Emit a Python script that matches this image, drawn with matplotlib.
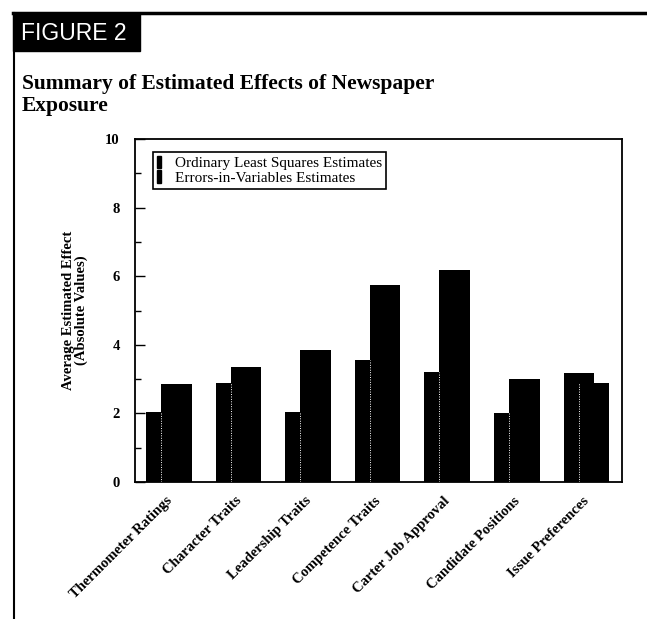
import matplotlib
matplotlib.use('Agg')
import matplotlib.pyplot as plt
from matplotlib.patches import Rectangle, Patch
from matplotlib.lines import Line2D
import numpy as np

# data
categories = ['Thermometer Ratings', 'Character Traits', 'Leadership Traits',
              'Competence Traits', 'Carter Job Approval', 'Candidate Positions',
              'Issue Preferences']
ols = [2.03, 2.89, 2.04, 3.57, 3.21, 2.01, 3.19]
eiv = [2.87, 3.34, 3.85, 5.74, 6.17, 3.00, 2.90]
series_names = ['Ordinary Least Squares Estimates', 'Errors-in-Variables Estimates']

W, H = 647, 619
serif = 'Liberation Serif'

fig = plt.figure(figsize=(W / 100, H / 100), dpi=100)


def fx(px):
    return px / W


def fy(py):
    return 1 - py / H


# page frame: thick top rule, thin left rule, black "FIGURE 2" tab
fig.add_artist(Line2D([fx(13), 1], [fy(13), fy(13)], color='black', lw=2.5,
                      transform=fig.transFigure))
fig.add_artist(Line2D([fx(14), fx(14)], [fy(13), 0], color='black', lw=1.5,
                      transform=fig.transFigure))
fig.add_artist(Rectangle((fx(13), fy(51)), fx(140) - fx(13), fy(13) - fy(51),
                         color='black', transform=fig.transFigure))
fig.text(fx(21), fy(33), 'FIGURE 2', color='white', fontsize=16.5,
         family='Liberation Sans', va='center', ha='left')
fig.text(fx(22), fy(74), 'Summary of Estimated Effects of Newspaper\nExposure',
         fontsize=15.5, family=serif, weight='bold', va='top', ha='left',
         linespacing=1.1)

ax = fig.add_axes([fx(135), fy(482), fx(622) - fx(135), fy(139) - fy(482)])

x = np.arange(len(categories))
w = 0.44
ax.bar(x - 0.12, ols, width=w, color='black', zorder=2)
ax.bar(x + 0.095, eiv, width=w, color='black', zorder=3)
# faint white dotted seam where the two bars overlap
ax.vlines(x + 0.095 - w / 2, 0, np.minimum(ols, eiv), colors='white',
          linestyles=(0, (1, 1.5)), lw=0.7, zorder=4)

ax.set_xlim(-0.5, len(categories) - 0.5)
ax.set_ylim(0, 10)
ax.set_yticks([0, 2, 4, 6, 8, 10])
ax.set_yticks([1, 3, 5, 7, 9], minor=True)
ax.set_xticks(x)
ax.set_xticklabels(categories, rotation=45, ha='right', va='center',
                   rotation_mode='anchor', family=serif, weight='bold',
                   fontsize=10.5)
ax.tick_params(axis='x', length=0, pad=12)
ax.tick_params(axis='y', which='major', direction='in', length=7, width=1, pad=11)
ax.tick_params(axis='y', which='minor', direction='in', length=4, width=1)
for lab in ax.get_yticklabels():
    lab.set_family(serif)
    lab.set_weight('bold')
    lab.set_fontsize(10.5)
for s in ax.spines.values():
    s.set_linewidth(1.3)

ax.set_ylabel('Average Estimated Effect\n(Absolute Values)', family=serif,
              weight='bold', fontsize=10.5, linespacing=0.95)
ax.yaxis.set_label_coords(-0.097, 0.5)

handles = [Patch(facecolor='black', edgecolor='black'),
           Patch(facecolor='black', edgecolor='black')]
leg = ax.legend(handles, series_names, loc='upper left',
                bbox_to_anchor=(0.037, 0.963), prop={'family': serif, 'size': 11},
                handlelength=0.3, handleheight=0.9, handletextpad=0.9,
                labelspacing=0.0, borderpad=0.25, borderaxespad=0,
                frameon=True, fancybox=False, framealpha=1, edgecolor='black')
leg.get_frame().set_linewidth(1.2)

fig.savefig('out.png', dpi=100)
